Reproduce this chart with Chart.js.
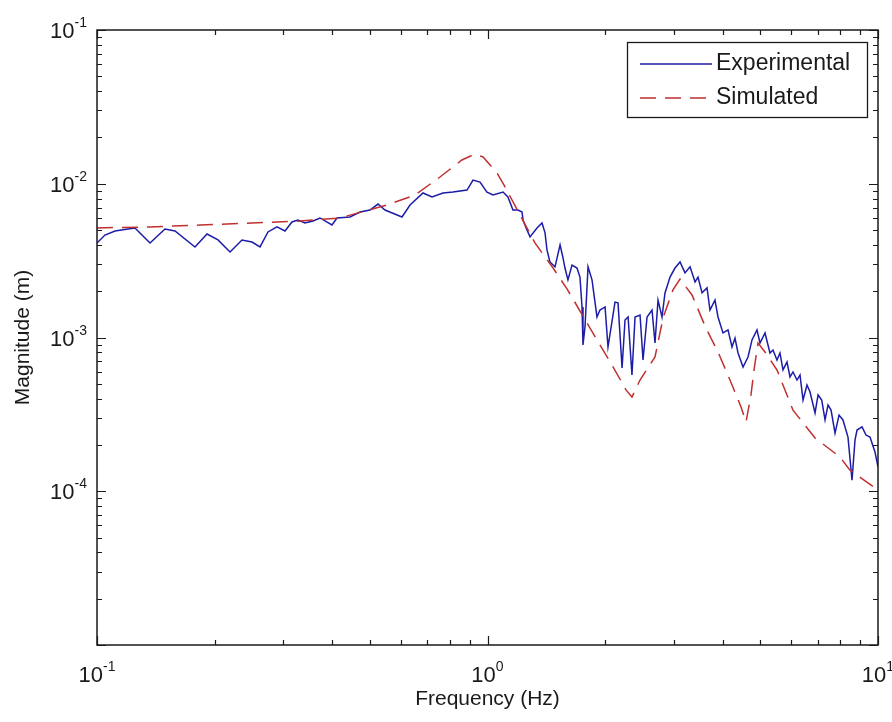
<!DOCTYPE html>
<html>
<head>
<meta charset="utf-8">
<title>Magnitude vs Frequency</title>
<script src="https://cdn.jsdelivr.net/npm/chart.js@4.4.1/dist/chart.umd.min.js"></script>
<style>
  html, body { margin: 0; padding: 0; background: #fff; }
  #wrap { width: 892px; height: 722px; }
</style>
</head>
<body>
<div id="wrap"><canvas id="fig" width="892" height="722"></canvas></div>
<script>
// measured response: frequency (Hz) and magnitude (m)
const expFreq = [
  0.1, 0.1048, 0.1112, 0.1201, 0.1251, 0.1367, 0.1493, 0.1584, 0.1782, 0.1913,
  0.2041, 0.2191, 0.2351, 0.2494, 0.2615, 0.2741, 0.2890, 0.3030, 0.3157, 0.3270,
  0.3408, 0.3574, 0.3724, 0.3997, 0.4117, 0.4445, 0.4716, 0.5000, 0.5243, 0.5464,
  0.6040, 0.6333, 0.6836, 0.7210, 0.7691, 0.8161, 0.8862, 0.9182, 0.9568, 0.9970,
  1.033, 1.096, 1.128, 1.162, 1.197, 1.226, 1.233, 1.262, 1.285, 1.339,
  1.379, 1.404, 1.420, 1.445, 1.489, 1.534, 1.561, 1.579, 1.607, 1.646,
  1.695, 1.725, 1.746, 1.756, 1.777, 1.809, 1.852, 1.907, 1.941, 2.000,
  2.035, 2.121, 2.159, 2.211, 2.250, 2.291, 2.344, 2.387, 2.458, 2.502,
  2.562, 2.638, 2.685, 2.733, 2.798, 2.848, 2.934, 3.021, 3.112, 3.205,
  3.301, 3.400, 3.460, 3.543, 3.649, 3.713, 3.824, 3.893, 4.009, 4.129,
  4.228, 4.303, 4.381, 4.512, 4.647, 4.757, 4.899, 4.987, 5.136, 5.289,
  5.384, 5.512, 5.610, 5.711, 5.848, 5.951, 6.058, 6.203, 6.314, 6.427,
  6.579, 6.698, 6.899, 7.023, 7.176, 7.318, 7.447, 7.582, 7.762, 7.947,
  8.134, 8.378, 8.579, 8.732, 8.836, 9.101, 9.317, 9.539, 9.824, 10.0
];
const expMag = [
  0.00412, 0.00464, 0.00493, 0.00508, 0.00516, 0.00412, 0.00508, 0.00493, 0.00388, 0.00471,
  0.00431, 0.00360, 0.00431, 0.00418, 0.00388, 0.00486, 0.00524, 0.00493, 0.00564, 0.00581,
  0.00556, 0.00572, 0.00599, 0.00539, 0.00599, 0.00608, 0.00655, 0.00675, 0.00738, 0.00675,
  0.00608, 0.00727, 0.00871, 0.00820, 0.00871, 0.00883, 0.00910, 0.01057, 0.01026, 0.00883,
  0.00845, 0.00883, 0.00820, 0.00675, 0.00675, 0.00655, 0.00581, 0.00500, 0.00451, 0.00516,
  0.00556, 0.00479, 0.00371, 0.00310, 0.00288, 0.00400, 0.00329, 0.00283, 0.00237, 0.00296,
  0.00283, 0.00247, 0.00158, 0.000894, 0.00117, 0.00288, 0.00237, 0.00136, 0.00151, 0.00158,
  0.000867, 0.00170, 0.00168, 0.000633, 0.00130, 0.00136, 0.000570, 0.00136, 0.00140, 0.000714,
  0.00136, 0.00151, 0.000921, 0.00175, 0.00136, 0.00195, 0.00247, 0.00283, 0.00310, 0.00263,
  0.00288, 0.00230, 0.00247, 0.00195, 0.00210, 0.00151, 0.00175, 0.00136, 0.00107, 0.00112,
  0.000867, 0.000992, 0.000793, 0.000643, 0.000747, 0.000964, 0.00112, 0.000921, 0.00107, 0.000793,
  0.000829, 0.000714, 0.000793, 0.000615, 0.000693, 0.000554, 0.000597, 0.000529, 0.000570, 0.000392,
  0.000491, 0.000442, 0.000323, 0.000423, 0.000392, 0.000291, 0.000364, 0.000337, 0.000239, 0.000313,
  0.000291, 0.000225, 0.000118, 0.000215, 0.000250, 0.000262, 0.000232, 0.000225, 0.000180, 0.000144
];

// model response
const simFreq = [
  0.1, 0.1367, 0.1836, 0.2494, 0.3311, 0.4190, 0.4857, 0.5528, 0.652, 0.7557,
  0.860, 0.929, 0.974, 1.0576, 1.109, 1.323, 1.472, 1.598, 1.756, 1.907,
  2.084, 2.263, 2.344, 2.458, 2.685, 2.815, 2.985, 3.112, 3.340, 3.626,
  3.893, 4.178, 4.459, 4.592, 4.729, 4.814, 4.929, 5.136, 5.512, 6.058,
  6.899, 7.991, 8.477, 10.0
];
const simMag = [
  0.00516, 0.00524, 0.00539, 0.00556, 0.00572, 0.00599, 0.00665, 0.00727, 0.00845, 0.01106,
  0.01427, 0.01561, 0.01493, 0.01175, 0.00953, 0.00412, 0.00283, 0.00207, 0.00138, 0.000964,
  0.000662, 0.000456, 0.000410, 0.000529, 0.000747, 0.00134, 0.00204, 0.00240, 0.00189, 0.00115,
  0.000805, 0.000529, 0.000353, 0.000282, 0.000423, 0.000615, 0.000921, 0.000805, 0.000615, 0.000337,
  0.000222, 0.000167, 0.000137, 0.000102
];

// decade ticks and their exponent labels
const xDecades = [0.1, 1, 10];
const xDecadeExp = ['-1', '0', '1'];
const yDecades = [1e-1, 1e-2, 1e-3, 1e-4];
const yDecadeExp = ['-1', '-2', '-3', '-4'];

const FONT = '"Liberation Sans", Arial, sans-serif';
const INK = '#1a1a1a';

// draws "10" with a raised exponent
function drawPower(ctx, exp, x, y, align) {
  ctx.font = '22px ' + FONT;
  const wb = ctx.measureText('10').width;
  ctx.font = '14px ' + FONT;
  const we = ctx.measureText(exp).width;
  const left = align === 'right' ? x - wb - we : x - (wb + we) / 2;
  ctx.textAlign = 'left';
  ctx.textBaseline = 'alphabetic';
  ctx.font = '22px ' + FONT;
  ctx.fillText('10', left, y);
  ctx.font = '14px ' + FONT;
  ctx.fillText(exp, left + wb, y - 11);
}

// box axes with inward ticks, labels and legend
const boxAxes = {
  id: 'boxAxes',
  afterDatasetsDraw(chart) {
    const { ctx, chartArea: a, scales: { x, y } } = chart;
    ctx.save();
    ctx.strokeStyle = INK;
    ctx.fillStyle = INK;
    ctx.lineWidth = 1.5;
    ctx.strokeRect(a.left, a.top, a.right - a.left, a.bottom - a.top);

    ctx.lineWidth = 1.2;
    ctx.beginPath();
    // x ticks
    for (let d = -1; d <= 1; d++) {
      for (let k = 1; k <= 9; k++) {
        const v = k * Math.pow(10, d);
        if (v > 10.0001) break;
        const px = Math.round(x.getPixelForValue(v)) + 0.5;
        const len = k === 1 ? 9 : 5;
        ctx.moveTo(px, a.bottom); ctx.lineTo(px, a.bottom - len);
        ctx.moveTo(px, a.top); ctx.lineTo(px, a.top + len);
      }
    }
    // y ticks
    for (let d = -5; d <= -1; d++) {
      for (let k = 1; k <= 9; k++) {
        const v = k * Math.pow(10, d);
        if (v > 0.10001) break;
        const py = Math.round(y.getPixelForValue(v)) + 0.5;
        const len = k === 1 ? 9 : 5;
        ctx.moveTo(a.left, py); ctx.lineTo(a.left + len, py);
        ctx.moveTo(a.right, py); ctx.lineTo(a.right - len, py);
      }
    }
    ctx.stroke();

    xDecades.forEach((v, i) => drawPower(ctx, xDecadeExp[i], x.getPixelForValue(v), a.bottom + 37, 'center'));
    yDecades.forEach((v, i) => drawPower(ctx, yDecadeExp[i], a.left - 10, y.getPixelForValue(v) + 8, 'right'));

    // axis titles
    ctx.font = '21px ' + FONT;
    ctx.textAlign = 'center';
    ctx.textBaseline = 'middle';
    ctx.fillText('Frequency (Hz)', (a.left + a.right) / 2, a.bottom + 54);
    ctx.save();
    ctx.translate(23, (a.top + a.bottom) / 2);
    ctx.rotate(-Math.PI / 2);
    ctx.fillText('Magnitude (m)', 0, 0);
    ctx.restore();

    // legend
    const lx = 627, ly = 42, lw = 240, lh = 75;
    ctx.fillStyle = '#fff';
    ctx.fillRect(lx, ly, lw, lh);
    ctx.lineWidth = 1.3;
    ctx.strokeStyle = INK;
    ctx.strokeRect(lx + 0.5, ly + 0.5, lw, lh);
    ctx.font = '23px ' + FONT;
    ctx.textAlign = 'left';
    ctx.textBaseline = 'middle';
    chart.data.datasets.forEach((ds, i) => {
      const ry = ly + 22 + i * 34;
      ctx.strokeStyle = ds.borderColor;
      ctx.lineWidth = ds.borderWidth;
      ctx.setLineDash(ds.borderDash || []);
      ctx.beginPath();
      ctx.moveTo(lx + 13, ry); ctx.lineTo(lx + 85, ry);
      ctx.stroke();
      ctx.setLineDash([]);
      ctx.fillStyle = INK;
      ctx.fillText(ds.label, lx + 89, ry);
    });
    ctx.restore();
  }
};

const toPoints = (fs, ms) => fs.map((f, i) => ({ x: f, y: ms[i] }));

new Chart(document.getElementById('fig'), {
  type: 'line',
  data: {
    datasets: [
      {
        label: 'Experimental',
        data: toPoints(expFreq, expMag),
        borderColor: '#1c1ca8',
        borderWidth: 1.5,
        pointRadius: 0,
        tension: 0,
        order: 1
      },
      {
        label: 'Simulated',
        data: toPoints(simFreq, simMag),
        borderColor: '#c03030',
        borderWidth: 1.5,
        borderDash: [16, 9],
        pointRadius: 0,
        tension: 0,
        order: 0
      }
    ]
  },
  options: {
    responsive: false,
    animation: false,
    devicePixelRatio: 1,
    layout: { padding: { left: 97, top: 30, right: 14, bottom: 77 } },
    plugins: { legend: { display: false }, tooltip: { enabled: false } },
    scales: {
      x: { type: 'logarithmic', min: 0.1, max: 10, display: false },
      y: { type: 'logarithmic', min: 1e-5, max: 1e-1, display: false }
    }
  },
  plugins: [boxAxes]
});
</script>
</body>
</html>
